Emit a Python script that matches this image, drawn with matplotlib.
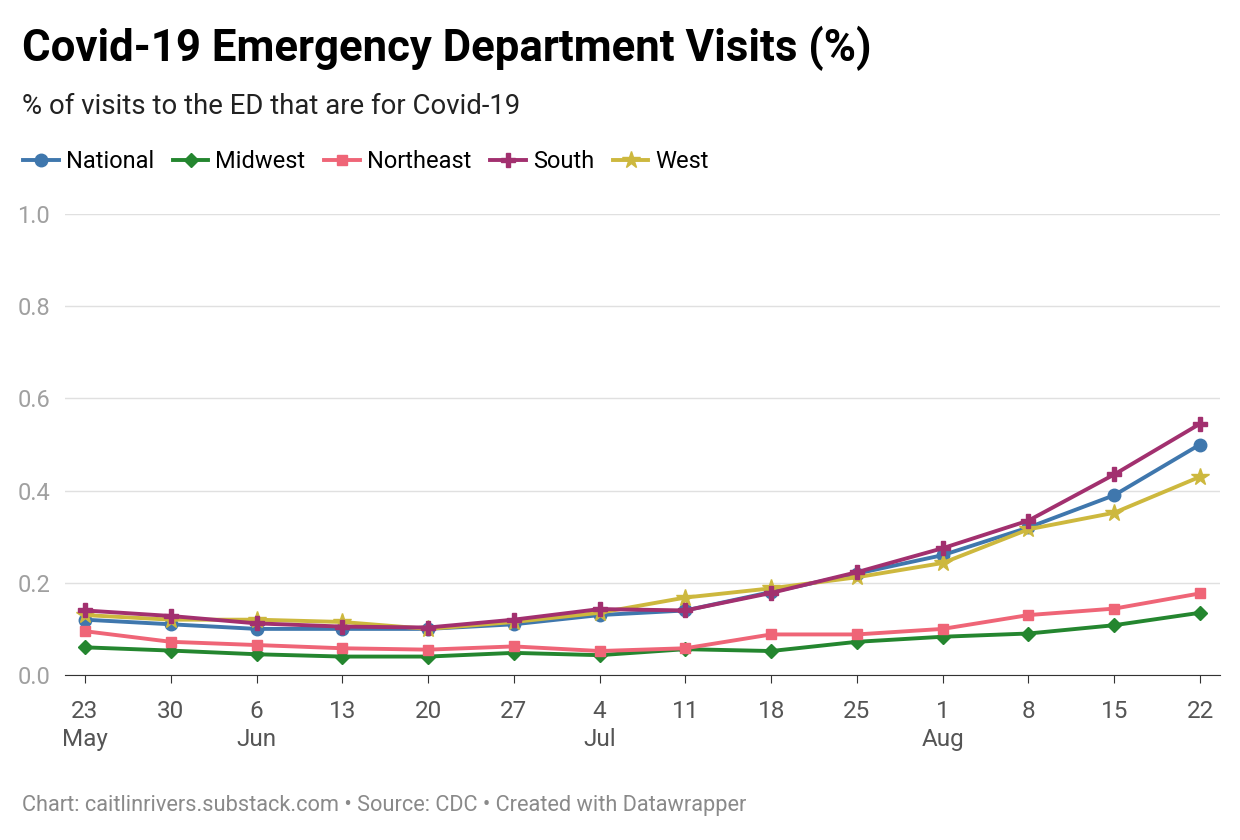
import matplotlib.pyplot as plt
import numpy as np

plt.rcParams['font.family'] = ['Roboto', 'DejaVu Sans']

dates = ["23\nMay", "30", "6\nJun", "13", "20", "27", "4\nJul", "11", "18", "25", "1\nAug", "8", "15", "22"]
national = [0.12, 0.11, 0.10, 0.10, 0.10, 0.11, 0.13, 0.14, 0.18, 0.22, 0.26, 0.32, 0.39, 0.50]
midwest = [0.06, 0.053, 0.045, 0.04, 0.04, 0.048, 0.043, 0.056, 0.052, 0.072, 0.083, 0.09, 0.108, 0.135]
northeast = [0.095, 0.072, 0.065, 0.058, 0.055, 0.062, 0.052, 0.058, 0.088, 0.088, 0.10, 0.13, 0.144, 0.177]
south = [0.14, 0.128, 0.112, 0.105, 0.103, 0.12, 0.143, 0.14, 0.178, 0.223, 0.275, 0.335, 0.435, 0.545]
west = [0.13, 0.12, 0.12, 0.115, 0.10, 0.115, 0.135, 0.168, 0.188, 0.212, 0.243, 0.316, 0.352, 0.43]

series = [
    ("National", national, "#3f77ad", "o", 9, 3),
    ("Midwest", midwest, "#24862f", "D", 7, 3),
    ("Northeast", northeast, "#ef6577", "s", 7, 3),
    ("South", south, "#a2306f", "P", 10, 5),
    ("West", west, "#cdb83e", "*", 13, 4),
]

W, H = 1240, 840
fig = plt.figure(figsize=(12.4, 8.4), dpi=100)
ax = fig.add_axes([65 / W, 1 - 675 / H, (1220 - 65) / W, (675 - 214) / H])

x = np.arange(len(dates))
for name, vals, col, mk, ms, z in series:
    ax.plot(x, vals, color=col, lw=2.8, marker=mk, ms=ms, label=name, zorder=z)

ax.set_xlim(-0.233, 13.233)
ax.set_ylim(0, 1.0)
ax.set_yticks(np.arange(0, 1.01, 0.2))
ax.set_yticklabels([f"{v:.1f}" for v in np.arange(0, 1.01, 0.2)])
ax.grid(axis='y', color='#e0e0e0', lw=1)
ax.set_axisbelow(True)
for s in ['top', 'right', 'left']:
    ax.spines[s].set_visible(False)
ax.spines['bottom'].set_color('#333333')
ax.tick_params(axis='y', length=0, labelsize=17, labelcolor='#a0a0a0')
ax.set_xticks(x)
ax.set_xticklabels(dates, fontsize=17.5, color='#555555', linespacing=1.3)
for lbl in ax.get_yticklabels():
    lbl.set_horizontalalignment('left')
    lbl.set_x(-43 / (1220 - 65))
ax.tick_params(axis='x', length=6, color='#333333', pad=12)

fig.text(22 / W, 1 - 48 / H, "Covid-19 Emergency Department Visits (%)", fontsize=31.5,
         fontweight='bold', va='center')
fig.text(22 / W, 1 - 106 / H, "% of visits to the ED that are for Covid-19", fontsize=19.8,
         va='center', color='#222222')
fig.legend(loc='center left', bbox_to_anchor=(14 / W, 1 - 162 / H), ncol=5, frameon=False,
           fontsize=17, handlelength=1.5, handletextpad=0.3, columnspacing=0.8,
           borderaxespad=0)
fig.text(22 / W, 1 - 806 / H,
         "Chart: caitlinrivers.substack.com \u2022 Source: CDC \u2022 Created with Datawrapper",
         fontsize=15.7, color='#8a8a8a', va='center')

fig.savefig("out.png", dpi=100)
